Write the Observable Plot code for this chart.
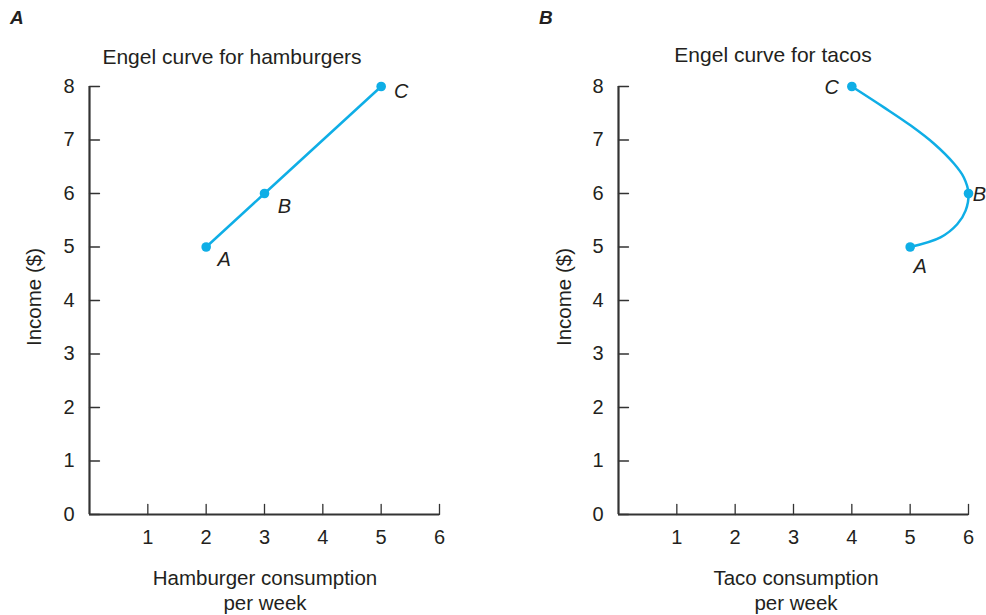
<!DOCTYPE html>
<html>
<head>
<meta charset="utf-8">
<script src="https://cdn.jsdelivr.net/npm/d3@7"></script>
<script src="https://cdn.jsdelivr.net/npm/@observablehq/plot@0.6"></script>
<style>
  html, body { margin: 0; padding: 0; background: #fff; }
  body { width: 986px; height: 615px; position: relative; overflow: hidden;
         font-family: "Liberation Sans", Arial, Helvetica, sans-serif; color: #231f20; }
  .abs { position: absolute; white-space: nowrap; }
  .panel { position: absolute; top: 0; }
  .plabel { font-weight: bold; font-style: italic; font-size: 19px; }
  .title { font-size: 21px; transform: translate(-50%, -50%); }
  .xlab { font-size: 20.5px; text-align: center; line-height: 25px; transform: translate(-50%, 0); }
  .ylab { font-size: 20.5px; transform: translate(-50%, -50%) rotate(-90deg); }
  svg { overflow: visible; }
</style>
</head>
<body>
<div class="abs plabel" style="left:10px; top:7px;">A</div>
<div class="abs plabel" style="left:539px; top:7px;">B</div>
<div class="abs title" style="left:232px; top:57px;">Engel curve for hamburgers</div>
<div class="abs title" style="left:773px; top:55px;">Engel curve for tacos</div>
<div class="abs ylab" style="left:34px; top:297px;">Income ($)</div>
<div class="abs ylab" style="left:564px; top:297px;">Income ($)</div>
<div class="abs xlab" style="left:265px; top:565px;">Hamburger consumption<br>per week</div>
<div class="abs xlab" style="left:796px; top:565px;">Taco consumption<br>per week</div>
<div id="pA" class="panel" style="left:0px;"></div>
<div id="pB" class="panel" style="left:493px;"></div>
<script>
// ---- data ----
const xTicks = [1, 2, 3, 4, 5, 6];
const yTicks = [0, 1, 2, 3, 4, 5, 6, 7, 8];
const pointNames = ["A", "B", "C"];
const hamburgerQty = [2, 3, 5];
const hamburgerIncome = [5, 6, 8];
const tacoQty = [5, 6, 4];
const tacoIncome = [5, 6, 8];
// taco Engel curve path (A -> B -> C)
const tacoCurveQty = [5, 5.52, 5.81, 5.95, 6, 5.92, 5.75, 5.41, 5.01, 4.55, 4];
const tacoCurveIncome = [5, 5.18, 5.43, 5.68, 6, 6.30, 6.56, 6.93, 7.27, 7.61, 8];

const BLUE = "#0faee6";
const AXIS = "#333333";
const FONT = "Liberation Sans, Arial, Helvetica, sans-serif";

const tickShape = { draw(context, l) { context.moveTo(0, 0); context.lineTo(0, -l); } };

function panel(points, curve, labelOffsets, marginLeft, marginRight) {
  return Plot.plot({
    width: 493,
    height: 615,
    marginLeft,
    marginRight,
    marginTop: 86,
    marginBottom: 101,
    style: { fontFamily: FONT, fontSize: "20px", color: "#231f20", background: "transparent", overflow: "visible" },
    x: { domain: [0, 6], axis: null, label: null },
    y: { domain: [0, 8], axis: null, label: null },
    marks: [
      Plot.axisY(yTicks, { anchor: "left", tickSize: 0, tickPadding: 15, fontSize: 20, tickFormat: d => String(d), label: null }),
      Plot.axisX(xTicks, { anchor: "bottom", tickSize: 0, tickPadding: 15, fontSize: 20, tickFormat: d => String(d), label: null }),
      Plot.vector(yTicks, { x: () => 0, y: d => d, length: 10, rotate: 90, anchor: "start", shape: tickShape, stroke: AXIS, strokeWidth: 1.3 }),
      Plot.vector(xTicks, { x: d => d, y: () => 0, length: 10, rotate: 0, anchor: "start", shape: tickShape, stroke: AXIS, strokeWidth: 1.3 }),
      Plot.ruleX([0], { stroke: AXIS, strokeWidth: 2.2 }),
      Plot.ruleY([0], { stroke: AXIS, strokeWidth: 2.2 }),
      Plot.line(curve.data, { x: "q", y: "inc", curve: curve.type, stroke: BLUE, strokeWidth: 2.5 }),
      Plot.dot(points, { x: "q", y: "inc", r: 4.8, fill: BLUE }),
      ...points.map((p, i) => Plot.text([p], {
        x: "q", y: "inc", text: "name", fontStyle: "italic", fontSize: 20, fill: "#231f20",
        dx: labelOffsets[i][0], dy: labelOffsets[i][1]
      }))
    ]
  });
}

const hamburgerPoints = pointNames.map((name, i) => ({ name, q: hamburgerQty[i], inc: hamburgerIncome[i] }));
const tacoPoints = pointNames.map((name, i) => ({ name, q: tacoQty[i], inc: tacoIncome[i] }));
const tacoCurve = tacoCurveQty.map((q, i) => ({ q, inc: tacoCurveIncome[i] }));

document.getElementById("pA").appendChild(
  panel(hamburgerPoints, { data: hamburgerPoints, type: "linear" }, [[18, 13], [20, 13], [20, 5]], 89, 54)
);
document.getElementById("pB").appendChild(
  panel(tacoPoints, { data: tacoCurve, type: "catmull-rom" }, [[10, 20], [11, 1], [-20, 1]], 125, 18)
);
</script>
</body>
</html>
